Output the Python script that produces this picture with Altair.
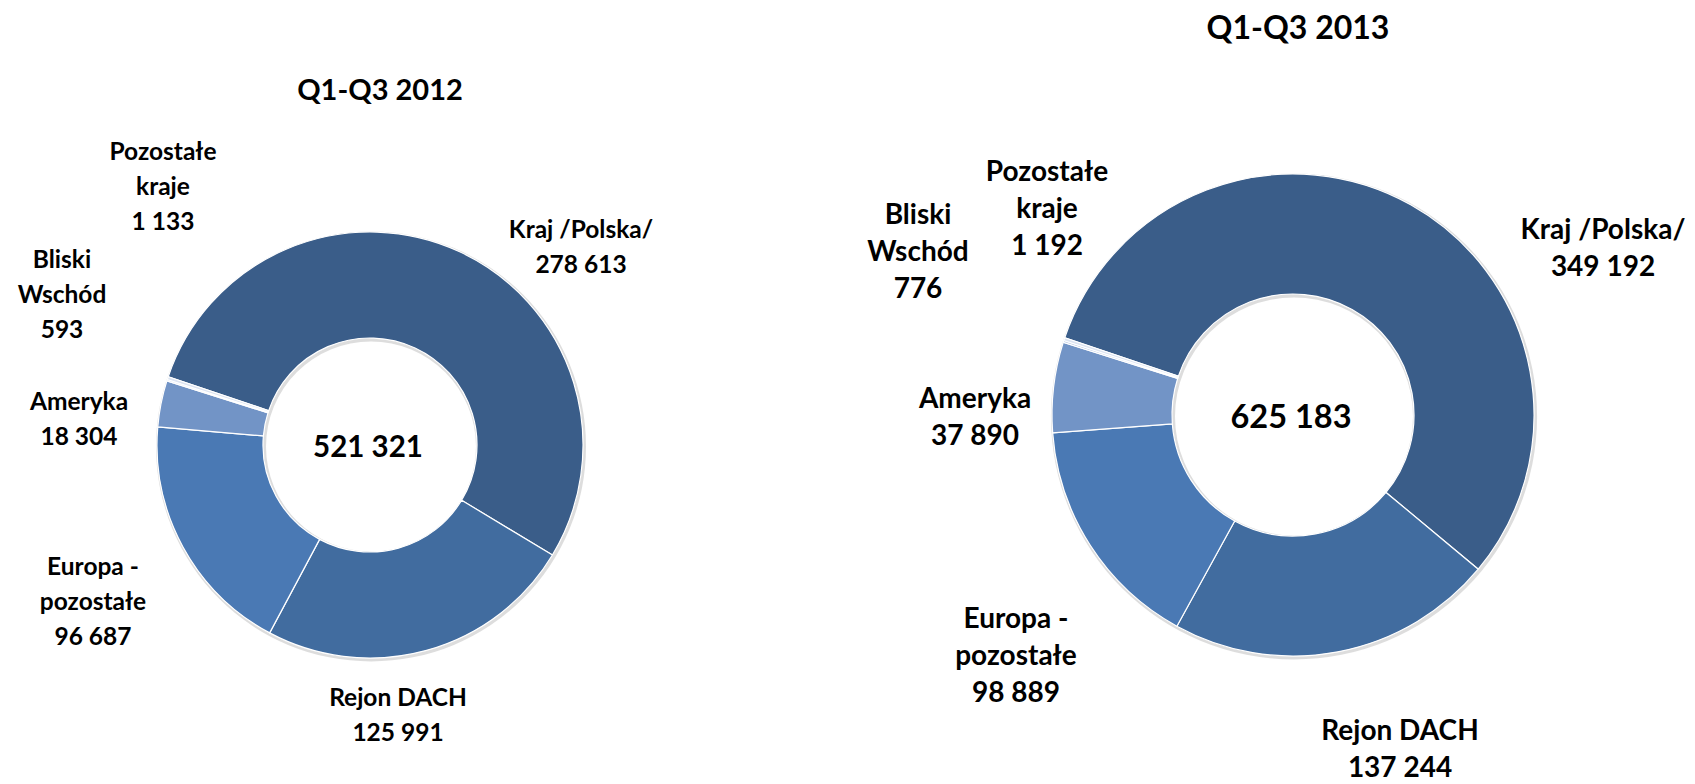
import math
import altair as alt
import pandas as pd

# ---------------- data ----------------
CATEGORIES = ["Kraj /Polska/", "Rejon DACH", "Europa - pozostałe", "Ameryka",
              "Bliski Wschód", "Pozostałe kraje"]
LABEL_NAMES = ["Kraj /Polska/", "Rejon DACH", "Europa -\npozostałe", "Ameryka",
               "Bliski\nWschód", "Pozostałe\nkraje"]
VALUES_2012 = [278613, 125991, 96687, 18304, 593, 1133]
VALUES_2013 = [349192, 137244, 98889, 37890, 776, 1192]
TITLES = ["Q1-Q3 2012", "Q1-Q3 2013"]

# ---------------- style / layout ----------------
COLORS = ["#3A5D89", "#416C9F", "#4A79B4", "#7294C6", "#B9C9E4", "#DCE4F2"]
FONT = "Lato"
START_DEG = 288.7  # angle of first slice, clockwise from 12 o'clock

# label anchors: centre x of the block, y of the first line
LAYOUT = [
    dict(width=840, height=768, cx=362, cy=437, R=213, r=107,
         fs=24.5, lh=35, title_fs=29, total_fs=29.5,
         title_xy=(372, 83),
         lx=[573, 390, 85, 71, 54, 155],
         ly=[223, 691, 560, 395, 253, 145]),
    dict(width=839, height=768, cx=445, cy=407, R=241, r=121,
         fs=28, lh=37, title_fs=32, total_fs=32.5,
         title_xy=(450, 21),
         lx=[755, 552, 168, 127, 70, 199],
         ly=[223, 724, 612, 392, 208, 165]),
]


def fmt(v):
    return f"{v:,}".replace(",", " ")


def panel(title, values, lay):
    total = sum(values)
    df = pd.DataFrame({
        "cat": CATEGORIES,
        "value": values,
        "order": list(range(len(values))),
        "label": [f"{n}\n{fmt(v)}" for n, v in zip(LABEL_NAMES, values)],
        "lx": lay["lx"],
        "ly": lay["ly"],
    })
    start = math.radians(START_DEG)

    shadow = alt.Chart(pd.DataFrame({"v": [1]})).mark_arc(
        radius=lay["R"] + 2, radius2=lay["r"] - 2, color="#d4d4d4", opacity=0.8
    ).encode(
        theta=alt.Theta("v:Q", scale=alt.Scale(domain=[0, 1], range=[0, 2 * math.pi])),
        x=alt.value(lay["cx"] + 1), y=alt.value(lay["cy"] + 1.5),
    )

    arc = alt.Chart(df).mark_arc(
        radius=lay["R"], radius2=lay["r"], stroke="white", strokeWidth=1.2
    ).encode(
        theta=alt.Theta("value:Q", stack=True,
                        scale=alt.Scale(domain=[0, total], range=[start, start + 2 * math.pi],
                                        nice=False, zero=True)),
        color=alt.Color("cat:N", scale=alt.Scale(domain=CATEGORIES, range=COLORS), legend=None),
        order=alt.Order("order:Q"),
        x=alt.value(lay["cx"]), y=alt.value(lay["cy"]),
    )

    labels = alt.Chart(df).mark_text(
        font=FONT, fontWeight="bold", fontSize=lay["fs"], lineBreak="\n",
        lineHeight=lay["lh"], align="center", baseline="middle", color="black"
    ).encode(
        x=alt.X("lx:Q", scale=None, axis=None),
        y=alt.Y("ly:Q", scale=None, axis=None),
        text="label:N",
    )

    tdf = pd.DataFrame({"t": [title]})
    ttl = alt.Chart(tdf).mark_text(
        font=FONT, fontWeight="bold", fontSize=lay["title_fs"], align="center",
        baseline="middle", color="black"
    ).encode(x=alt.value(lay["title_xy"][0]), y=alt.value(lay["title_xy"][1]), text="t:N")

    cdf = pd.DataFrame({"t": [fmt(total)]})
    center = alt.Chart(cdf).mark_text(
        font=FONT, fontWeight="bold", fontSize=lay["total_fs"], align="center",
        baseline="middle", color="black"
    ).encode(x=alt.value(lay["cx"] - 2), y=alt.value(lay["cy"] + 3), text="t:N")

    return alt.layer(shadow, arc, labels, ttl, center).resolve_scale(
        theta="independent"
    ).properties(width=lay["width"], height=lay["height"])


left = panel(TITLES[0], VALUES_2012, LAYOUT[0])
right = panel(TITLES[1], VALUES_2013, LAYOUT[1])

chart = alt.hconcat(left, right, spacing=0).properties(padding=0).configure_view(stroke=None)

chart.save("out.html", embed_options={"renderer": "svg", "actions": False})
